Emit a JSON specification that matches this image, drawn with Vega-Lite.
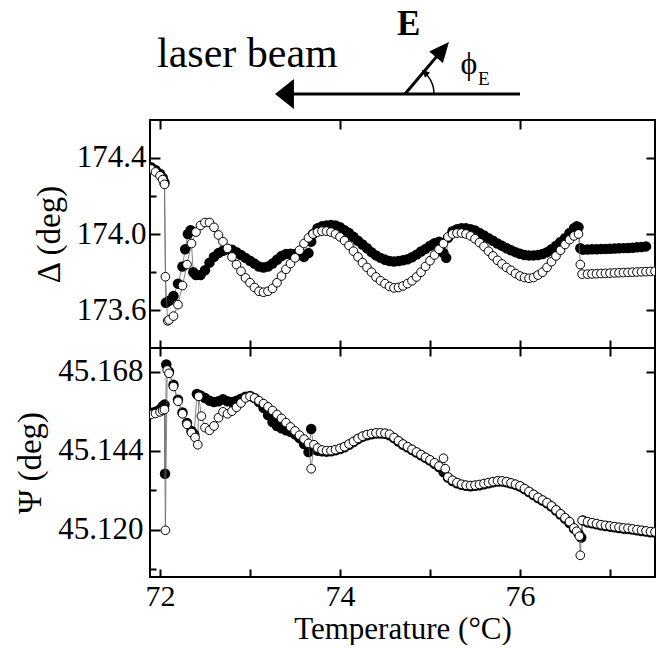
{
"$schema": "https://vega.github.io/schema/vega-lite/v6.json",
"padding": {"left": 13, "top": 0, "right": 3, "bottom": 0},
"spacing": 0,
"bounds": "flush",
"config": {
 "font": "Liberation Serif",
 "text": {"font": "Liberation Serif"},
 "view": {"stroke": "black", "strokeWidth": 2},
 "axis": {"domain": false, "grid": false, "tickColor": "black", "tickWidth": 2, "labelColor": "black", "labelFont": "Liberation Serif", "labelFontSize": 31, "titleFont": "Liberation Serif", "titleFontSize": 33, "titleFontWeight": "normal", "titleColor": "black"}
},
"datasets": {
"dF": [
{"T":71.90,"v":174.350},{"T":71.95,"v":174.335},{"T":72.00,"v":174.315},{"T":72.03,"v":174.295},{"T":72.05,"v":174.270},{"T":72.065,"v":173.640},{"T":72.10,"v":173.650},{"T":72.15,"v":173.675},{"T":72.20,"v":173.740},{"T":72.25,"v":173.830},{"T":72.28,"v":173.920},{"T":72.31,"v":174.000},{"T":72.34,"v":174.020},{"T":72.37,"v":173.800},{"T":72.40,"v":173.785},{"T":72.45,"v":173.785},{"T":72.50,"v":173.810},{"T":72.55,"v":173.850},{"T":72.60,"v":173.880},{"T":72.65,"v":173.900},{"T":72.70,"v":173.912},{"T":72.75,"v":173.920},{"T":72.80,"v":173.918},{"T":72.85,"v":173.905},{"T":72.90,"v":173.890},{"T":72.95,"v":173.875},{"T":73.00,"v":173.860},{"T":73.05,"v":173.845},{"T":73.10,"v":173.830},{"T":73.15,"v":173.825},{"T":73.20,"v":173.830},{"T":73.25,"v":173.845},{"T":73.30,"v":173.865},{"T":73.35,"v":173.885},{"T":73.40,"v":173.895},{"T":73.45,"v":173.897},{"T":73.50,"v":173.895},{"T":73.55,"v":173.890},{"T":73.60,"v":173.880},{"T":73.65,"v":173.900},{"T":73.68,"v":173.960},{"T":73.70,"v":174.000},{"T":73.75,"v":174.030},{"T":73.80,"v":174.040},{"T":73.85,"v":174.045},{"T":73.90,"v":174.047},{"T":73.95,"v":174.045},{"T":74.00,"v":174.035},{"T":74.05,"v":174.020},{"T":74.10,"v":174.005},{"T":74.15,"v":173.985},{"T":74.20,"v":173.965},{"T":74.25,"v":173.945},{"T":74.30,"v":173.925},{"T":74.35,"v":173.905},{"T":74.40,"v":173.888},{"T":74.45,"v":173.875},{"T":74.50,"v":173.865},{"T":74.55,"v":173.858},{"T":74.60,"v":173.856},{"T":74.65,"v":173.858},{"T":74.70,"v":173.862},{"T":74.75,"v":173.868},{"T":74.80,"v":173.878},{"T":74.85,"v":173.892},{"T":74.90,"v":173.908},{"T":74.95,"v":173.922},{"T":75.00,"v":173.938},{"T":75.05,"v":173.952},{"T":75.10,"v":173.960},{"T":75.15,"v":173.900},{"T":75.18,"v":173.875},{"T":75.20,"v":173.980},{"T":75.25,"v":174.015},{"T":75.30,"v":174.025},{"T":75.35,"v":174.030},{"T":75.40,"v":174.030},{"T":75.45,"v":174.025},{"T":75.50,"v":174.018},{"T":75.55,"v":174.005},{"T":75.60,"v":173.992},{"T":75.65,"v":173.978},{"T":75.70,"v":173.965},{"T":75.75,"v":173.950},{"T":75.80,"v":173.938},{"T":75.85,"v":173.925},{"T":75.90,"v":173.915},{"T":75.95,"v":173.905},{"T":76.00,"v":173.897},{"T":76.05,"v":173.890},{"T":76.10,"v":173.888},{"T":76.15,"v":173.888},{"T":76.20,"v":173.890},{"T":76.25,"v":173.895},{"T":76.30,"v":173.905},{"T":76.35,"v":173.920},{"T":76.40,"v":173.938},{"T":76.45,"v":173.958},{"T":76.50,"v":173.978},{"T":76.55,"v":174.005},{"T":76.60,"v":174.030},{"T":76.63,"v":174.040},{"T":76.65,"v":174.035},{"T":76.67,"v":173.925},{"T":76.70,"v":173.918},{"T":76.75,"v":173.919},{"T":76.80,"v":173.920},{"T":76.85,"v":173.920},{"T":76.90,"v":173.921},{"T":76.95,"v":173.922},{"T":77.00,"v":173.923},{"T":77.05,"v":173.924},{"T":77.10,"v":173.925},{"T":77.15,"v":173.926},{"T":77.20,"v":173.927},{"T":77.25,"v":173.928},{"T":77.30,"v":173.930},{"T":77.35,"v":173.932},{"T":77.40,"v":173.935}
],
"dO": [
{"T":71.90,"v":174.340},{"T":71.95,"v":174.325},{"T":72.00,"v":174.305},{"T":72.03,"v":174.285},{"T":72.05,"v":174.260},{"T":72.06,"v":173.776},{"T":72.085,"v":173.545},{"T":72.10,"v":173.550},{"T":72.15,"v":173.570},{"T":72.20,"v":173.630},{"T":72.25,"v":173.730},{"T":72.30,"v":173.840},{"T":72.35,"v":173.950},{"T":72.40,"v":174.010},{"T":72.45,"v":174.045},{"T":72.50,"v":174.060},{"T":72.55,"v":174.060},{"T":72.60,"v":174.035},{"T":72.65,"v":173.995},{"T":72.70,"v":173.960},{"T":72.75,"v":173.925},{"T":72.80,"v":173.880},{"T":72.85,"v":173.840},{"T":72.90,"v":173.805},{"T":72.95,"v":173.770},{"T":73.00,"v":173.745},{"T":73.05,"v":173.720},{"T":73.10,"v":173.700},{"T":73.15,"v":173.695},{"T":73.20,"v":173.700},{"T":73.25,"v":173.715},{"T":73.30,"v":173.745},{"T":73.35,"v":173.780},{"T":73.40,"v":173.815},{"T":73.45,"v":173.845},{"T":73.50,"v":173.875},{"T":73.55,"v":173.915},{"T":73.60,"v":173.950},{"T":73.65,"v":173.980},{"T":73.70,"v":174.000},{"T":73.75,"v":174.010},{"T":73.80,"v":174.015},{"T":73.85,"v":174.015},{"T":73.90,"v":174.010},{"T":73.95,"v":174.000},{"T":74.00,"v":173.985},{"T":74.05,"v":173.965},{"T":74.10,"v":173.940},{"T":74.15,"v":173.910},{"T":74.20,"v":173.880},{"T":74.25,"v":173.850},{"T":74.30,"v":173.825},{"T":74.35,"v":173.800},{"T":74.40,"v":173.775},{"T":74.45,"v":173.755},{"T":74.50,"v":173.740},{"T":74.55,"v":173.725},{"T":74.60,"v":173.718},{"T":74.65,"v":173.720},{"T":74.70,"v":173.728},{"T":74.75,"v":173.740},{"T":74.80,"v":173.755},{"T":74.85,"v":173.775},{"T":74.90,"v":173.800},{"T":74.95,"v":173.830},{"T":75.00,"v":173.860},{"T":75.05,"v":173.890},{"T":75.10,"v":173.920},{"T":75.15,"v":173.950},{"T":75.20,"v":173.985},{"T":75.25,"v":174.000},{"T":75.30,"v":174.005},{"T":75.35,"v":174.005},{"T":75.40,"v":174.000},{"T":75.45,"v":173.990},{"T":75.50,"v":173.975},{"T":75.55,"v":173.955},{"T":75.60,"v":173.935},{"T":75.65,"v":173.910},{"T":75.70,"v":173.885},{"T":75.75,"v":173.862},{"T":75.80,"v":173.843},{"T":75.85,"v":173.825},{"T":75.90,"v":173.810},{"T":75.95,"v":173.793},{"T":76.00,"v":173.780},{"T":76.05,"v":173.772},{"T":76.10,"v":173.768},{"T":76.15,"v":173.772},{"T":76.20,"v":173.785},{"T":76.25,"v":173.800},{"T":76.30,"v":173.825},{"T":76.35,"v":173.855},{"T":76.40,"v":173.885},{"T":76.45,"v":173.915},{"T":76.50,"v":173.945},{"T":76.55,"v":173.970},{"T":76.60,"v":173.990},{"T":76.65,"v":174.000},{"T":76.67,"v":173.840},{"T":76.69,"v":173.790},{"T":76.75,"v":173.790},{"T":76.80,"v":173.791},{"T":76.85,"v":173.792},{"T":76.90,"v":173.793},{"T":76.95,"v":173.794},{"T":77.00,"v":173.795},{"T":77.05,"v":173.796},{"T":77.10,"v":173.797},{"T":77.15,"v":173.798},{"T":77.20,"v":173.799},{"T":77.25,"v":173.800},{"T":77.30,"v":173.801},{"T":77.35,"v":173.802},{"T":77.40,"v":173.803},{"T":77.45,"v":173.804},{"T":77.50,"v":173.805}
],
"pF": [
{"T":71.90,"v":45.1555},{"T":71.95,"v":45.1558},{"T":72.00,"v":45.1565},{"T":72.03,"v":45.1575},{"T":72.05,"v":45.1580},{"T":72.056,"v":45.1370},{"T":72.07,"v":45.1702},{"T":72.10,"v":45.1680},{"T":72.15,"v":45.1640},{"T":72.20,"v":45.1595},{"T":72.25,"v":45.1556},{"T":72.30,"v":45.1524},{"T":72.35,"v":45.1500},{"T":72.38,"v":45.1490},{"T":72.41,"v":45.1612},{"T":72.45,"v":45.1608},{"T":72.50,"v":45.1600},{"T":72.55,"v":45.1592},{"T":72.60,"v":45.1588},{"T":72.65,"v":45.1590},{"T":72.70,"v":45.1596},{"T":72.75,"v":45.1590},{"T":72.80,"v":45.1588},{"T":72.85,"v":45.1592},{"T":72.90,"v":45.1598},{"T":72.95,"v":45.1604},{"T":73.00,"v":45.1606},{"T":73.05,"v":45.1600},{"T":73.10,"v":45.1588},{"T":73.15,"v":45.1570},{"T":73.20,"v":45.1548},{"T":73.25,"v":45.1527},{"T":73.30,"v":45.1515},{"T":73.35,"v":45.1508},{"T":73.40,"v":45.1502},{"T":73.45,"v":45.1497},{"T":73.50,"v":45.1490},{"T":73.55,"v":45.1478},{"T":73.60,"v":45.1460},{"T":73.65,"v":45.1436},{"T":73.68,"v":45.1506},{"T":73.71,"v":45.1445},{"T":73.75,"v":45.1440},{"T":73.80,"v":45.1438},{"T":73.85,"v":45.1437},{"T":73.90,"v":45.1438},{"T":73.95,"v":45.1441},{"T":74.00,"v":45.1445},{"T":74.05,"v":45.1450},{"T":74.10,"v":45.1458},{"T":74.15,"v":45.1466},{"T":74.20,"v":45.1475},{"T":74.25,"v":45.1482},{"T":74.30,"v":45.1487},{"T":74.35,"v":45.1490},{"T":74.40,"v":45.1492},{"T":74.45,"v":45.1492},{"T":74.50,"v":45.1491},{"T":74.55,"v":45.1487},{"T":74.60,"v":45.1478},{"T":74.65,"v":45.1468},{"T":74.70,"v":45.1458},{"T":74.75,"v":45.1450},{"T":74.80,"v":45.1442},{"T":74.85,"v":45.1434},{"T":74.90,"v":45.1426},{"T":74.95,"v":45.1418},{"T":75.00,"v":45.1410},{"T":75.05,"v":45.1400},{"T":75.10,"v":45.1390},{"T":75.15,"v":45.1375},{"T":75.20,"v":45.1358},{"T":75.25,"v":45.1348},{"T":75.30,"v":45.1341},{"T":75.35,"v":45.1336},{"T":75.40,"v":45.1333},{"T":75.45,"v":45.1332},{"T":75.50,"v":45.1333},{"T":75.55,"v":45.1335},{"T":75.60,"v":45.1338},{"T":75.65,"v":45.1341},{"T":75.70,"v":45.1344},{"T":75.75,"v":45.1346},{"T":75.80,"v":45.1346},{"T":75.85,"v":45.1344},{"T":75.90,"v":45.1340},{"T":75.95,"v":45.1336},{"T":76.00,"v":45.1331},{"T":76.05,"v":45.1323},{"T":76.10,"v":45.1314},{"T":76.15,"v":45.1305},{"T":76.20,"v":45.1296},{"T":76.25,"v":45.1288},{"T":76.30,"v":45.1280},{"T":76.35,"v":45.1270},{"T":76.40,"v":45.1258},{"T":76.45,"v":45.1246},{"T":76.50,"v":45.1234},{"T":76.55,"v":45.1220},{"T":76.60,"v":45.1203},{"T":76.65,"v":45.1188},{"T":76.68,"v":45.1176},{"T":76.70,"v":45.1228},{"T":76.75,"v":45.1222},{"T":76.80,"v":45.1219},{"T":76.85,"v":45.1216},{"T":76.90,"v":45.1213},{"T":76.95,"v":45.1211},{"T":77.00,"v":45.1209},{"T":77.05,"v":45.1207},{"T":77.10,"v":45.1205},{"T":77.15,"v":45.1203},{"T":77.20,"v":45.1202},{"T":77.25,"v":45.1200},{"T":77.30,"v":45.1198},{"T":77.35,"v":45.1196},{"T":77.40,"v":45.1194},{"T":77.45,"v":45.1192},{"T":77.50,"v":45.1191}
],
"pO": [
{"T":71.90,"v":45.1550},{"T":71.95,"v":45.1553},{"T":72.00,"v":45.1558},{"T":72.03,"v":45.1562},{"T":72.05,"v":45.1565},{"T":72.06,"v":45.1198},{"T":72.08,"v":45.1685},{"T":72.10,"v":45.1675},{"T":72.15,"v":45.1635},{"T":72.20,"v":45.1590},{"T":72.25,"v":45.1552},{"T":72.30,"v":45.1520},{"T":72.35,"v":45.1495},{"T":72.39,"v":45.1480},{"T":72.42,"v":45.1458},{"T":72.43,"v":45.1605},{"T":72.46,"v":45.1545},{"T":72.50,"v":45.1510},{"T":72.55,"v":45.1502},{"T":72.60,"v":45.1515},{"T":72.65,"v":45.1540},{"T":72.70,"v":45.1558},{"T":72.75,"v":45.1552},{"T":72.80,"v":45.1560},{"T":72.85,"v":45.1572},{"T":72.90,"v":45.1585},{"T":72.95,"v":45.1600},{"T":73.00,"v":45.1605},{"T":73.05,"v":45.1600},{"T":73.10,"v":45.1592},{"T":73.15,"v":45.1583},{"T":73.20,"v":45.1573},{"T":73.25,"v":45.1562},{"T":73.30,"v":45.1550},{"T":73.35,"v":45.1538},{"T":73.40,"v":45.1525},{"T":73.45,"v":45.1512},{"T":73.50,"v":45.1500},{"T":73.55,"v":45.1487},{"T":73.60,"v":45.1475},{"T":73.65,"v":45.1462},{"T":73.68,"v":45.1385},{"T":73.71,"v":45.1458},{"T":73.75,"v":45.1448},{"T":73.80,"v":45.1442},{"T":73.85,"v":45.1440},{"T":73.90,"v":45.1440},{"T":73.95,"v":45.1443},{"T":74.00,"v":45.1447},{"T":74.05,"v":45.1452},{"T":74.10,"v":45.1460},{"T":74.15,"v":45.1468},{"T":74.20,"v":45.1477},{"T":74.25,"v":45.1484},{"T":74.30,"v":45.1489},{"T":74.35,"v":45.1492},{"T":74.40,"v":45.1494},{"T":74.45,"v":45.1494},{"T":74.50,"v":45.1493},{"T":74.55,"v":45.1490},{"T":74.60,"v":45.1480},{"T":74.65,"v":45.1470},{"T":74.70,"v":45.1460},{"T":74.75,"v":45.1452},{"T":74.80,"v":45.1444},{"T":74.85,"v":45.1436},{"T":74.90,"v":45.1428},{"T":74.95,"v":45.1420},{"T":75.00,"v":45.1412},{"T":75.05,"v":45.1403},{"T":75.10,"v":45.1393},{"T":75.15,"v":45.1417},{"T":75.17,"v":45.1385},{"T":75.20,"v":45.1360},{"T":75.25,"v":45.1350},{"T":75.30,"v":45.1343},{"T":75.35,"v":45.1338},{"T":75.40,"v":45.1335},{"T":75.45,"v":45.1334},{"T":75.50,"v":45.1335},{"T":75.55,"v":45.1337},{"T":75.60,"v":45.1340},{"T":75.65,"v":45.1343},{"T":75.70,"v":45.1346},{"T":75.75,"v":45.1348},{"T":75.80,"v":45.1348},{"T":75.85,"v":45.1346},{"T":75.90,"v":45.1342},{"T":75.95,"v":45.1338},{"T":76.00,"v":45.1333},{"T":76.05,"v":45.1325},{"T":76.10,"v":45.1316},{"T":76.15,"v":45.1307},{"T":76.20,"v":45.1298},{"T":76.25,"v":45.1290},{"T":76.30,"v":45.1282},{"T":76.35,"v":45.1272},{"T":76.40,"v":45.1260},{"T":76.45,"v":45.1248},{"T":76.50,"v":45.1236},{"T":76.55,"v":45.1224},{"T":76.60,"v":45.1205},{"T":76.63,"v":45.1195},{"T":76.66,"v":45.1180},{"T":76.67,"v":45.1122},{"T":76.69,"v":45.1228},{"T":76.75,"v":45.1224},{"T":76.80,"v":45.1221},{"T":76.85,"v":45.1218},{"T":76.90,"v":45.1215},{"T":76.95,"v":45.1213},{"T":77.00,"v":45.1211},{"T":77.05,"v":45.1209},{"T":77.10,"v":45.1207},{"T":77.15,"v":45.1205},{"T":77.20,"v":45.1204},{"T":77.25,"v":45.1202},{"T":77.30,"v":45.1200},{"T":77.35,"v":45.1198},{"T":77.40,"v":45.1196},{"T":77.45,"v":45.1194},{"T":77.50,"v":45.1193}
]
},
"vconcat": [
{
 "width": 505, "height": 120,
 "view": {"stroke": null},
 "layer": [
  {"data": {"values": [{"x": 73.38, "x2": 76.0, "y": 0.217}]},
   "mark": {"type": "rule", "strokeWidth": 3, "color": "black"},
   "encoding": {"x": {"field": "x", "type": "quantitative", "scale": {"domain": [71.889, 77.5], "nice": false, "zero": false}, "axis": null}, "x2": {"field": "x2"}, "y": {"field": "y", "type": "quantitative", "scale": {"domain": [0, 1], "nice": false}, "axis": null}}},
  {"data": {"values": [{"x": 73.383, "y": 0.217}]},
   "mark": {"type": "point", "shape": "M -0.63,0 L 0.63,-1 L 0.63,1 Z", "size": 900, "filled": true, "color": "black", "opacity": 1, "strokeWidth": 0},
   "encoding": {"x": {"field": "x", "type": "quantitative"}, "y": {"field": "y", "type": "quantitative"}}},
  {"data": {"values": [{"x": 74.722, "y": 0.217, "x2": 75.139, "y2": 0.5867}]},
   "mark": {"type": "rule", "strokeWidth": 3, "color": "black"},
   "encoding": {"x": {"field": "x", "type": "quantitative"}, "y": {"field": "y", "type": "quantitative"}, "x2": {"field": "x2"}, "y2": {"field": "y2"}}},
  {"data": {"values": [{"x": 75.139, "y": 0.5867}]},
   "mark": {"type": "point", "shape": "M 1,0 L -1,-0.9 L -1,0.9 Z", "size": 400, "angle": 310.25, "filled": true, "color": "black", "opacity": 1, "strokeWidth": 0},
   "encoding": {"x": {"field": "x", "type": "quantitative"}, "y": {"field": "y", "type": "quantitative"}}},
  {"data": {"values": [{"x": 75.045, "y": 0.217}, {"x": 75.038, "y": 0.267}, {"x": 75.017, "y": 0.315}, {"x": 74.983, "y": 0.359}, {"x": 74.945, "y": 0.392}]},
   "mark": {"type": "line", "strokeWidth": 1.5, "color": "black", "interpolate": "monotone"},
   "encoding": {"x": {"field": "x", "type": "quantitative"}, "y": {"field": "y", "type": "quantitative"}}},
  {"data": {"values": [{"x": 74.94, "y": 0.396}]},
   "mark": {"type": "point", "shape": "M 1,0 L -1,-0.9 L -1,0.9 Z", "size": 64, "angle": 222, "filled": true, "color": "black", "opacity": 1, "strokeWidth": 0},
   "encoding": {"x": {"field": "x", "type": "quantitative"}, "y": {"field": "y", "type": "quantitative"}}},
  {"data": {"values": [{"x": 71.967, "y": 0.444, "t": "laser beam"}]},
   "mark": {"type": "text", "font": "Liberation Serif", "fontSize": 42, "align": "left", "baseline": "alphabetic", "color": "black"},
   "encoding": {"x": {"field": "x", "type": "quantitative"}, "y": {"field": "y", "type": "quantitative"}, "text": {"field": "t"}}},
  {"data": {"values": [{"x": 74.763, "y": 0.708, "t": "E"}]},
   "mark": {"type": "text", "font": "Liberation Serif", "fontSize": 35, "fontWeight": "bold", "align": "center", "baseline": "alphabetic", "color": "black"},
   "encoding": {"x": {"field": "x", "type": "quantitative"}, "y": {"field": "y", "type": "quantitative"}, "text": {"field": "t"}}},
  {"data": {"values": [{"x": 75.433, "y": 0.383, "t": "ϕ"}]},
   "mark": {"type": "text", "font": "Liberation Serif", "fontSize": 32, "align": "center", "baseline": "alphabetic", "color": "black"},
   "encoding": {"x": {"field": "x", "type": "quantitative"}, "y": {"field": "y", "type": "quantitative"}, "text": {"field": "t"}}},
  {"data": {"values": [{"x": 75.597, "y": 0.292, "t": "E"}]},
   "mark": {"type": "text", "font": "Liberation Serif", "fontSize": 19, "align": "center", "baseline": "alphabetic", "color": "black"},
   "encoding": {"x": {"field": "x", "type": "quantitative"}, "y": {"field": "y", "type": "quantitative"}, "text": {"field": "t"}}}
 ]
},
{
 "width": 505, "height": 228,
 "resolve": {"axis": {"x": "independent", "y": "independent"}},
 "layer": [
  {"data": {"name": "dF"},
   "mark": {"type": "line", "color": "#666", "strokeWidth": 0.8, "clip": true},
   "encoding": {
    "x": {"field": "T", "type": "quantitative", "scale": {"domain": [71.889, 77.5], "nice": false, "zero": false},
          "axis": {"orient": "bottom", "values": [72, 73, 74, 75, 76, 77], "labels": false, "tickSize": -8, "title": null}},
    "y": {"field": "v", "type": "quantitative", "scale": {"domain": [173.403, 174.597], "nice": false, "zero": false},
          "axis": {"orient": "left", "values": [173.6, 174.0, 174.4], "format": ".1f", "ticks": false, "labelPadding": 4, "title": "Δ (deg)", "titlePadding": 10}}}},
  {"data": {"name": "dF"},
   "mark": {"type": "point", "shape": "circle", "filled": true, "color": "black", "size": 110, "opacity": 1, "clip": true},
   "encoding": {
    "x": {"field": "T", "type": "quantitative", "axis": {"orient": "top", "values": [72, 74, 76], "labels": false, "tickSize": -9, "title": null}},
    "y": {"field": "v", "type": "quantitative", "axis": {"orient": "left", "values": [173.6, 173.8, 174.0, 174.2, 174.4], "labels": false, "title": null,
          "tickSize": {"condition": {"test": "datum.value == 173.8 || datum.value == 174.2", "value": -6}, "value": -10}}}}},
  {"data": {"name": "dO"},
   "mark": {"type": "line", "color": "#666", "strokeWidth": 0.8, "clip": true},
   "encoding": {
    "x": {"field": "T", "type": "quantitative", "axis": null},
    "y": {"field": "v", "type": "quantitative", "axis": {"orient": "right", "values": [173.6, 174.0, 174.4], "labels": false, "tickSize": -9, "title": null}}}},
  {"data": {"name": "dO"},
   "mark": {"type": "point", "shape": "circle", "filled": true, "fill": "white", "stroke": "black", "strokeWidth": 1, "size": 75, "opacity": 1, "clip": true},
   "encoding": {
    "x": {"field": "T", "type": "quantitative", "axis": null},
    "y": {"field": "v", "type": "quantitative", "axis": null}}}
 ]
},
{
 "width": 505, "height": 229,
 "resolve": {"axis": {"x": "independent", "y": "independent"}},
 "layer": [
  {"data": {"name": "pF"},
   "mark": {"type": "line", "color": "#666", "strokeWidth": 0.8, "clip": true},
   "encoding": {
    "x": {"field": "T", "type": "quantitative", "scale": {"domain": [71.889, 77.5], "nice": false, "zero": false},
          "axis": {"orient": "bottom", "values": [72, 74, 76], "format": "d", "ticks": false, "labelPadding": 4, "labelFontSize": 30, "title": "Temperature (°C)", "titleFontSize": 31, "titlePadding": 3}},
    "y": {"field": "v", "type": "quantitative", "scale": {"domain": [45.1056, 45.1752], "nice": false, "zero": false},
          "axis": {"orient": "left", "values": [45.12, 45.144, 45.168], "format": ".3f", "ticks": false, "labelPadding": 7, "title": "Ψ (deg)", "titlePadding": 10}}}},
  {"data": {"name": "pF"},
   "mark": {"type": "point", "shape": "circle", "filled": true, "color": "black", "size": 110, "opacity": 1, "clip": true},
   "encoding": {
    "x": {"field": "T", "type": "quantitative", "axis": {"orient": "bottom", "values": [72, 73, 74, 75, 76, 77], "labels": false, "tickSize": -8, "title": null}},
    "y": {"field": "v", "type": "quantitative", "axis": {"orient": "left", "values": [45.108, 45.12, 45.132, 45.144, 45.156, 45.168], "labels": false, "title": null,
          "tickSize": {"condition": {"test": "datum.value == 45.108 || datum.value == 45.132 || datum.value == 45.156", "value": -6}, "value": -10}}}}},
  {"data": {"name": "pO"},
   "mark": {"type": "line", "color": "#666", "strokeWidth": 0.8, "clip": true},
   "encoding": {
    "x": {"field": "T", "type": "quantitative", "axis": {"orient": "top", "values": [72, 73, 74, 75, 76, 77], "labels": false, "tickSize": -8, "title": null}},
    "y": {"field": "v", "type": "quantitative", "axis": {"orient": "right", "values": [45.12, 45.144, 45.168], "labels": false, "tickSize": -9, "title": null}}}},
  {"data": {"name": "pO"},
   "mark": {"type": "point", "shape": "circle", "filled": true, "fill": "white", "stroke": "black", "strokeWidth": 1, "size": 75, "opacity": 1, "clip": true},
   "encoding": {
    "x": {"field": "T", "type": "quantitative", "axis": null},
    "y": {"field": "v", "type": "quantitative", "axis": null}}}
 ]
}
]
}
